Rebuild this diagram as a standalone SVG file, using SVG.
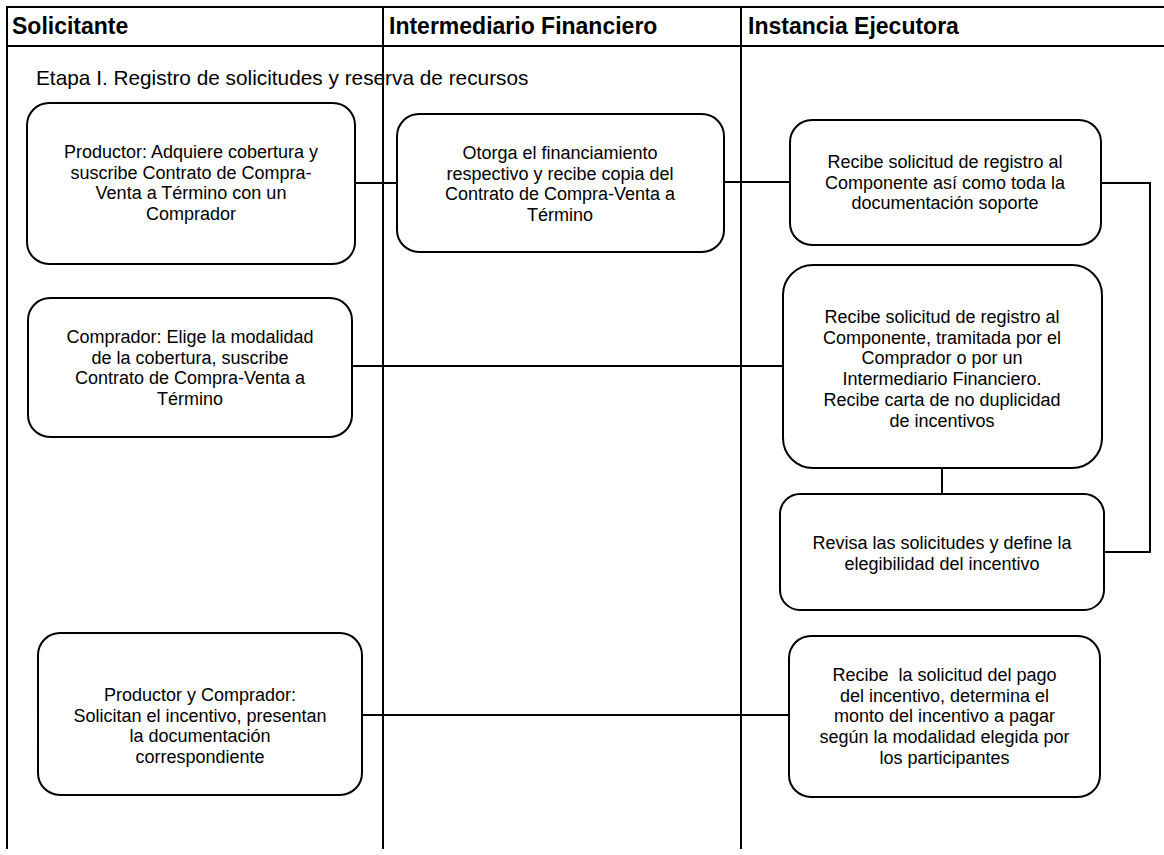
<svg xmlns="http://www.w3.org/2000/svg" width="1164" height="855" viewBox="0 0 1164 855">
<style>
.lane{stroke:#000;stroke-width:2;fill:none}
.box{fill:#fff;stroke:#000;stroke-width:2}
.conn{stroke:#000;stroke-width:2;fill:none}
.hdr{font-family:"Liberation Sans",Arial,sans-serif;font-weight:bold;font-size:23px;fill:#000}
.t{font-family:"Liberation Sans",Arial,sans-serif;font-size:18px;fill:#000;text-anchor:middle}
.etapa{font-family:"Liberation Sans",Arial,sans-serif;font-size:20.8px;fill:#000}
</style>
<rect width="1164" height="855" fill="#fff"/>
<g id="lanes">
<line class="lane" x1="7" y1="7" x2="1164" y2="7"/>
<line class="lane" x1="7" y1="46" x2="1164" y2="46"/>
<line class="lane" x1="7" y1="6" x2="7" y2="849"/>
<line class="lane" x1="383" y1="6" x2="383" y2="849"/>
<line class="lane" x1="741" y1="6" x2="741" y2="849"/>
<text class="hdr" x="12" y="34">Solicitante</text>
<text class="hdr" x="389" y="34">Intermediario Financiero</text>
<text class="hdr" x="748" y="34">Instancia Ejecutora</text>
<text class="etapa" x="36" y="85">Etapa I. Registro de solicitudes y reserva de recursos</text>
</g>
<g id="connectors">
<polyline class="conn" points="355,183 397,183"/>
<polyline class="conn" points="724,182 790,182"/>
<polyline class="conn" points="1101,183 1150,183 1150,552 1104,552"/>
<polyline class="conn" points="352,366 783,366"/>
<polyline class="conn" points="942,468 942,494"/>
<polyline class="conn" points="362,715 789,715"/>
</g>
<g id="n1">
<rect class="box" x="27" y="103" width="328" height="161" rx="22"/>
<text class="t" x="191" y="158">Productor: Adquiere cobertura y</text>
<text class="t" x="191" y="178.7">suscribe Contrato de Compra-</text>
<text class="t" x="191" y="199.4">Venta a Término con un</text>
<text class="t" x="191" y="220.1">Comprador</text>
</g>
<g id="n2">
<rect class="box" x="397" y="114" width="327" height="138" rx="22"/>
<text class="t" x="560" y="159">Otorga el financiamiento</text>
<text class="t" x="560" y="179.7">respectivo y recibe copia del</text>
<text class="t" x="560" y="200.4">Contrato de Compra-Venta a</text>
<text class="t" x="560" y="221.1">Término</text>
</g>
<g id="n3">
<rect class="box" x="790" y="120" width="311" height="125" rx="22"/>
<text class="t" x="945" y="168">Recibe solicitud de registro al</text>
<text class="t" x="945" y="188.7">Componente así como toda la</text>
<text class="t" x="945" y="209.4">documentación soporte</text>
</g>
<g id="n4">
<rect class="box" x="28" y="298" width="324" height="139" rx="22"/>
<text class="t" x="190" y="343">Comprador: Elige la modalidad</text>
<text class="t" x="190" y="363.7">de la cobertura, suscribe</text>
<text class="t" x="190" y="384.4">Contrato de Compra-Venta a</text>
<text class="t" x="190" y="405.1">Término</text>
</g>
<g id="n5">
<rect class="box" x="783" y="265" width="319" height="203" rx="30"/>
<text class="t" x="942" y="323">Recibe solicitud de registro al</text>
<text class="t" x="942" y="343.7">Componente, tramitada por el</text>
<text class="t" x="942" y="364.4">Comprador o por un</text>
<text class="t" x="942" y="385.1">Intermediario Financiero.</text>
<text class="t" x="942" y="405.8">Recibe carta de no duplicidad</text>
<text class="t" x="942" y="426.5">de incentivos</text>
</g>
<g id="n6">
<rect class="box" x="780" y="494" width="324" height="116" rx="20"/>
<text class="t" x="942" y="549">Revisa las solicitudes y define la</text>
<text class="t" x="942" y="569.7">elegibilidad del incentivo</text>
</g>
<g id="n7">
<rect class="box" x="38" y="633" width="324" height="162" rx="22"/>
<text class="t" x="200" y="701">Productor y Comprador:</text>
<text class="t" x="200" y="721.7">Solicitan el incentivo, presentan</text>
<text class="t" x="200" y="742.4">la documentación</text>
<text class="t" x="200" y="763.1">correspondiente</text>
</g>
<g id="n8">
<rect class="box" x="789" y="636" width="311" height="161" rx="22"/>
<text class="t" x="944.5" y="681" style="white-space:pre">Recibe  la solicitud del pago</text>
<text class="t" x="944.5" y="701.7">del incentivo, determina el</text>
<text class="t" x="944.5" y="722.4">monto del incentivo a pagar</text>
<text class="t" x="944.5" y="743.1">según la modalidad elegida por</text>
<text class="t" x="944.5" y="763.8">los participantes</text>
</g>
</svg>
